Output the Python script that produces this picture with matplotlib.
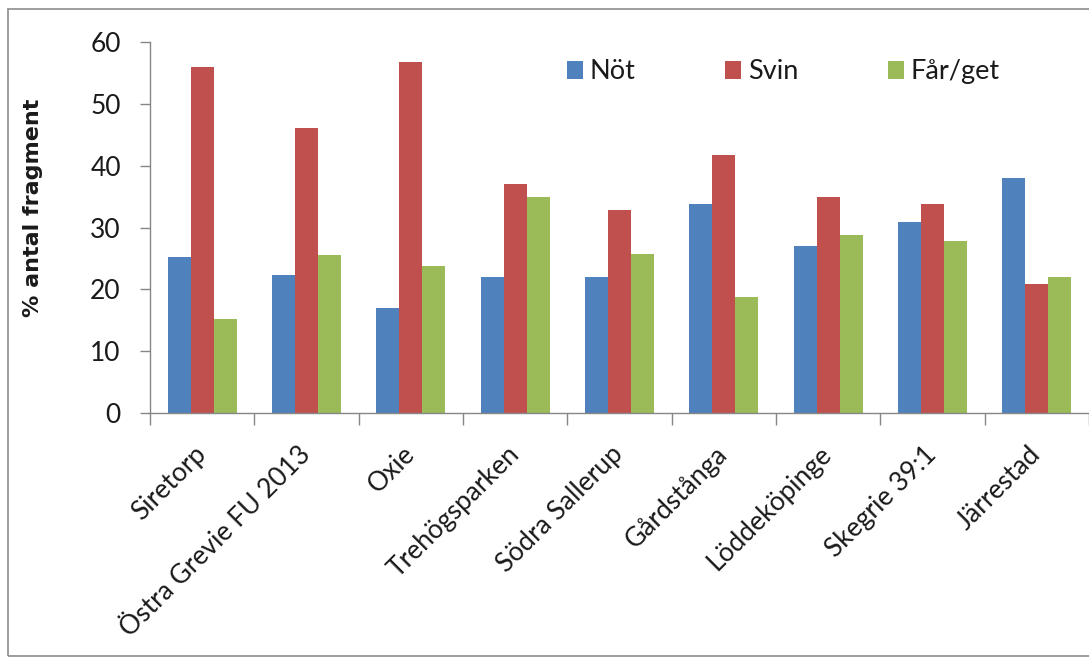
import numpy as np
import matplotlib
matplotlib.use("Agg")
import matplotlib.pyplot as plt
import matplotlib.transforms as mtransforms
from matplotlib.patches import Rectangle

# andel fragment per art och lokal
sites = ["Siretorp", "Östra Grevie FU 2013", "Oxie", "Trehögsparken",
         "Södra Sallerup", "Gårdstånga", "Löddeköpinge", "Skegrie 39:1", "Järrestad"]
not_vals = [25.2, 22.3, 17.0, 22.0, 22.0, 33.8, 27.0, 30.9, 38.0]
svin_vals = [56.0, 46.2, 56.8, 37.0, 32.9, 41.8, 35.0, 33.9, 20.8]
far_vals = [15.2, 25.6, 23.8, 35.0, 25.8, 18.8, 28.8, 27.9, 22.0]
series_names = ["Nöt", "Svin", "Får/get"]
colors = ["#4F81BD", "#C0504D", "#9BBB59"]

plt.rcParams["font.family"] = ["Lato", "DejaVu Sans"]
text_color = "#1a1a1a"
axis_color = "#868686"

fig = plt.figure(figsize=(10.89, 6.59), dpi=100)
ax = fig.add_axes([150 / 1089, 1 - 413 / 659, 939 / 1089, (413 - 42.3) / 659])

x = np.arange(len(sites)) + 0.5
width = 0.22
for i, (vals, name, c) in enumerate(zip([not_vals, svin_vals, far_vals], series_names, colors)):
    ax.bar(x + (i - 1) * width, vals, width, color=c, label=name, linewidth=0)

ax.set_xlim(0, len(sites))
ax.set_ylim(0, 60)
ax.set_yticks(np.arange(0, 61, 10))

# group boundaries carry the tick marks, labels sit on the centres
ax.set_xticks(np.arange(0, len(sites) + 1))
ax.set_xticklabels([])
ax.set_xticks(x, minor=True)
ax.set_xticklabels(sites, minor=True, rotation=45, ha="right", va="center",
                   rotation_mode="anchor", fontsize=19, color=text_color)
shift = mtransforms.ScaledTranslation(7 / 100, 0, fig.dpi_scale_trans)
for lbl in ax.get_xticklabels(minor=True):
    lbl.set_transform(lbl.get_transform() + shift)
ax.tick_params(axis="x", which="major", length=8.5, width=1, color=axis_color, direction="out")
ax.tick_params(axis="x", which="minor", length=0, pad=27)
ax.tick_params(axis="y", length=7, width=1, color=axis_color, pad=14,
               labelsize=19, labelcolor=text_color)

for side in ["top", "right"]:
    ax.spines[side].set_visible(False)
for side in ["left", "bottom"]:
    ax.spines[side].set_color(axis_color)
    ax.spines[side].set_linewidth(1)

fig.text(33 / 1089, 1 - 208 / 659, "% antal fragment", rotation=90, ha="center", va="center",
         fontsize=16, fontweight="bold", color=text_color, family="DejaVu Sans")

ax.legend(loc="center left", bbox_to_anchor=((553 - 150) / 939, (413 - 72) / (413 - 42.3)),
          ncol=3, frameon=False, fontsize=19.5, handlelength=0.6, handleheight=0.6,
          handletextpad=0.25, columnspacing=3.3, borderpad=0, labelcolor=text_color)

# outer frame around the chart area
fig.patches.append(Rectangle((8 / 1089, 3 / 659), 1.2, 1 - 12 / 659, transform=fig.transFigure,
                             fill=False, edgecolor="#8c8c8c", linewidth=1.2))

fig.savefig("out.png", dpi=100)
